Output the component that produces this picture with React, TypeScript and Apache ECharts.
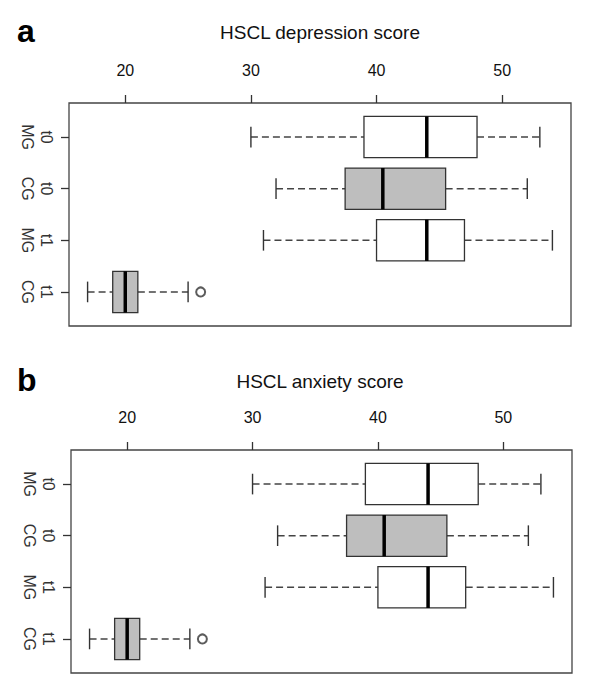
import React, { useEffect, useRef } from "react";
import * as echarts from "echarts";

// Categories (top to bottom)
const groups = ["MG", "CG", "MG", "CG"];
const times = ["t0", "t0", "t1", "t1"];
const categoryPositions = [1, 2, 3, 4];

// Panel a: HSCL depression score
const depressionLow = [30, 32, 31, 17];
const depressionQ1 = [39, 37.5, 40, 19];
const depressionMedian = [44, 40.5, 44, 20];
const depressionQ3 = [48, 45.5, 47, 21];
const depressionHigh = [53, 52, 54, 25];
const depressionOutlierValues = [26];
const depressionOutlierPositions = [4];

// Panel b: HSCL anxiety score
const anxietyLow = [30, 32, 31, 17];
const anxietyQ1 = [39, 37.5, 40, 19];
const anxietyMedian = [44, 40.5, 44, 20];
const anxietyQ3 = [48, 45.5, 47, 21];
const anxietyHigh = [53, 52, 54, 25];
const anxietyOutlierValues = [26];
const anxietyOutlierPositions = [4];

// Axis ticks
const xTicks = [20, 30, 40, 50];
const xMin = 15.52;
const xMax = 55.48;
const yMin = 0.34;
const yMax = 4.66;

const FONT = "'Liberation Sans', Arial, Helvetica, sans-serif";
const BOX_WIDTH = 0.8;
const CAP_WIDTH = 0.4;

function buildRows(low: number[], q1: number[], med: number[], q3: number[], high: number[]) {
  return categoryPositions.map((p, i) => [p, low[i], q1[i], med[i], q3[i], high[i]]);
}

function renderBox(params: any, api: any) {
  const pos = api.value(0);
  const low = api.value(1);
  const q1 = api.value(2);
  const med = api.value(3);
  const q3 = api.value(4);
  const high = api.value(5);
  const idx = params.dataIndex;
  const fill = groups[idx] === "CG" ? "#bebebe" : "#ffffff";

  const c = (v: number, p: number) => api.coord([v, p]);
  const yC = c(low, pos)[1];
  const yA = c(low, pos - BOX_WIDTH / 2)[1];
  const yB = c(low, pos + BOX_WIDTH / 2)[1];
  const boxTop = Math.min(yA, yB);
  const boxH = Math.abs(yB - yA);
  const capA = c(low, pos - CAP_WIDTH / 2)[1];
  const capB = c(low, pos + CAP_WIDTH / 2)[1];
  const xLow = c(low, pos)[0];
  const xQ1 = c(q1, pos)[0];
  const xMed = c(med, pos)[0];
  const xQ3 = c(q3, pos)[0];
  const xHigh = c(high, pos)[0];

  const dashStyle = { stroke: "#444", lineWidth: 1.5, lineDash: [7, 4] };
  const solid = { stroke: "#333", lineWidth: 1.4 };

  return {
    type: "group",
    children: [
      { type: "line", shape: { x1: xLow, y1: yC, x2: xQ1, y2: yC }, style: dashStyle },
      { type: "line", shape: { x1: xQ3, y1: yC, x2: xHigh, y2: yC }, style: dashStyle },
      { type: "line", shape: { x1: xLow, y1: capA, x2: xLow, y2: capB }, style: solid },
      { type: "line", shape: { x1: xHigh, y1: capA, x2: xHigh, y2: capB }, style: solid },
      {
        type: "rect",
        shape: { x: xQ1, y: boxTop, width: xQ3 - xQ1, height: boxH },
        style: { fill, stroke: "#333", lineWidth: 1.3 },
      },
      { type: "line", shape: { x1: xMed, y1: boxTop, x2: xMed, y2: boxTop + boxH }, style: { stroke: "#000", lineWidth: 3.5 } },
    ],
  };
}

function xAxisFor(gridIndex: number) {
  return {
    type: "value",
    gridIndex,
    position: "top",
    min: xMin,
    max: xMax,
    axisLine: { show: false },
    splitLine: { show: false },
    axisTick: { show: true, inside: false, length: 8, customValues: xTicks, lineStyle: { color: "#333", width: 1.3 } },
    axisLabel: {
      customValues: xTicks,
      formatter: (v: number) => String(v),
      margin: 25,
      fontSize: 16,
      color: "#111",
      fontFamily: FONT,
    },
  };
}

function yAxisFor(gridIndex: number) {
  return {
    type: "value",
    gridIndex,
    inverse: true,
    min: yMin,
    max: yMax,
    axisLine: { show: false },
    splitLine: { show: false },
    axisTick: { show: true, inside: false, length: 8, customValues: categoryPositions, lineStyle: { color: "#333", width: 1.3 } },
    axisLabel: {
      customValues: categoryPositions,
      formatter: (v: number) => {
        const i = Math.round(v) - 1;
        return `${times[i]}\n${groups[i]}`;
      },
      rotate: -90,
      margin: 13,
      fontSize: 16,
      lineHeight: 19,
      color: "#333",
      fontFamily: FONT,
    },
  };
}

export default function App() {
  const ref = useRef<HTMLDivElement>(null);

  useEffect(() => {
    if (!ref.current) return;
    const chart = echarts.init(ref.current, null, { renderer: "svg" });

    const option = {
      animation: false,
      backgroundColor: "#ffffff",
      graphic: [
        { type: "text", x: 17, y: 31, style: { text: "a", font: `bold 32px ${FONT}`, fill: "#000", textVerticalAlign: "middle" } },
        { type: "text", x: 320, y: 32, style: { text: "HSCL depression score", font: `19px ${FONT}`, fill: "#111", textAlign: "center", textVerticalAlign: "middle" } },
        { type: "text", x: 17, y: 380, style: { text: "b", font: `bold 32px ${FONT}`, fill: "#000", textVerticalAlign: "middle" } },
        { type: "text", x: 320, y: 381, style: { text: "HSCL anxiety score", font: `19px ${FONT}`, fill: "#111", textAlign: "center", textVerticalAlign: "middle" } },
      ],
      grid: [
        { left: 69, top: 103, width: 502, height: 223, show: true, borderColor: "#444", borderWidth: 1.3, backgroundColor: "transparent", containLabel: false },
        { left: 71, top: 450, width: 501, height: 223, show: true, borderColor: "#444", borderWidth: 1.3, backgroundColor: "transparent", containLabel: false },
      ],
      xAxis: [xAxisFor(0), xAxisFor(1)],
      yAxis: [yAxisFor(0), yAxisFor(1)],
      series: [
        {
          type: "custom",
          name: "HSCL depression score",
          xAxisIndex: 0,
          yAxisIndex: 0,
          renderItem: renderBox,
          encode: { x: [1, 2, 3, 4, 5], y: 0 },
          data: buildRows(depressionLow, depressionQ1, depressionMedian, depressionQ3, depressionHigh),
          z: 2,
        },
        {
          type: "scatter",
          name: "depression outliers",
          xAxisIndex: 0,
          yAxisIndex: 0,
          symbol: "emptyCircle",
          symbolSize: 9,
          itemStyle: { color: "#333", borderColor: "#333", borderWidth: 1.3 },
          data: depressionOutlierValues.map((v, i) => [v, depressionOutlierPositions[i]]),
          z: 3,
        },
        {
          type: "custom",
          name: "HSCL anxiety score",
          xAxisIndex: 1,
          yAxisIndex: 1,
          renderItem: renderBox,
          encode: { x: [1, 2, 3, 4, 5], y: 0 },
          data: buildRows(anxietyLow, anxietyQ1, anxietyMedian, anxietyQ3, anxietyHigh),
          z: 2,
        },
        {
          type: "scatter",
          name: "anxiety outliers",
          xAxisIndex: 1,
          yAxisIndex: 1,
          symbol: "emptyCircle",
          symbolSize: 9,
          itemStyle: { color: "#333", borderColor: "#333", borderWidth: 1.3 },
          data: anxietyOutlierValues.map((v, i) => [v, anxietyOutlierPositions[i]]),
          z: 3,
        },
      ],
    };

    chart.setOption(option as any);
    return () => chart.dispose();
  }, []);

  return (
    <div
      ref={ref}
      style={{ position: "fixed", left: 0, top: 0, width: 600, height: 697, background: "#fff" }}
    />
  );
}
